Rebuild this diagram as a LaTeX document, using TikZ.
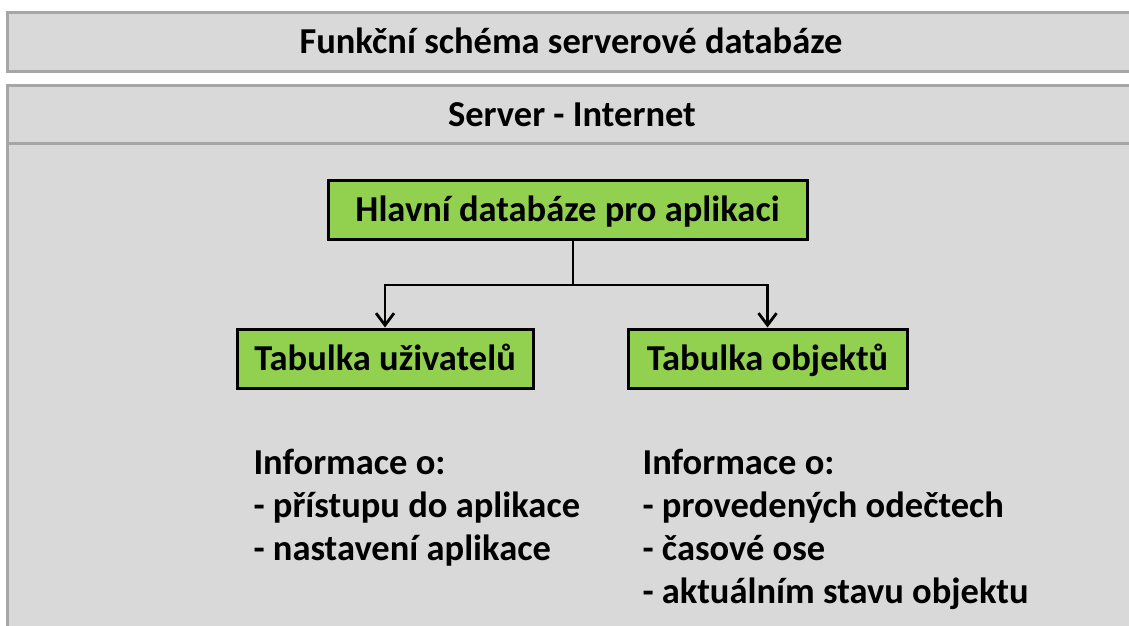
\documentclass[tikz,border=0pt]{standalone}
\usepackage{fontspec}
\setmainfont{Carlito}
\usetikzlibrary{arrows.meta, positioning}
\definecolor{cpanel}{HTML}{D9D9D9}
\definecolor{cframe}{HTML}{A6A6A6}
\definecolor{cgreen}{HTML}{92D050}
\tikzset{
  every picture/.style={font=\bfseries, line width=3pt},
  panel/.style={draw=cframe, fill=cpanel},
  tbl/.style={draw=black, fill=cgreen, inner sep=0pt, minimum height=59pt, text height=24pt, text depth=0pt, font=\bfseries\fontsize{36.5}{43}\selectfont},
  head/.style={anchor=base, inner sep=0pt, font=\bfseries\fontsize{36.5}{43}\selectfont},
  info/.style={align=left, anchor=north west, inner sep=0pt, font=\bfseries\fontsize{36.5}{43}\selectfont},
  arrow/.style={-{Straight Barb[length=12pt, width=18pt, line width=2.8pt]}, draw=black, line width=2.8pt},
}
\begin{document}
\begin{tikzpicture}[x=1pt, y=-1pt]
  \useasboundingbox (0,0) rectangle (1129,626);
  \clip (0,0) rectangle (1129,626);
  \fill[white] (0,0) rectangle (1129,626);
  % title and server panels
  \draw[panel] (7,13) rectangle (1140,71);
  \node[head] (title) at (571,54) {Funkční schéma serverové databáze};
  \draw[panel] (7,85) rectangle (1140,650);
  \draw[cframe] (7,143) -- (1140,143);
  \node[head] (server) at (572,126) {Server - Internet};
  % tables
  \node[tbl, minimum width=479pt] (hlavni) at (567.5,209.5) {Hlavní databáze pro aplikaci};
  \node[tbl, minimum width=296pt] (uziv) at (385,358.5) {Tabulka uživatelů};
  \node[tbl, minimum width=279pt] (obj) at (767.5,358.5) {Tabulka objektů};
  \coordinate (split) at (573,285);
  \draw[line width=2.8pt] (hlavni.south -| split) -- (split);
  \draw[arrow] (split) -| (uziv.north);
  \draw[arrow] (split) -| (obj.north);
  % information texts
  \node[info] (infou) at (252,448) {Informace o:\\- přístupu do aplikace\\- nastavení aplikace};
  \node[info] (infoo) at (641,448) {Informace o:\\- provedených odečtech\\- časové ose\\- aktuálním stavu objektu};
\end{tikzpicture}
\end{document}
